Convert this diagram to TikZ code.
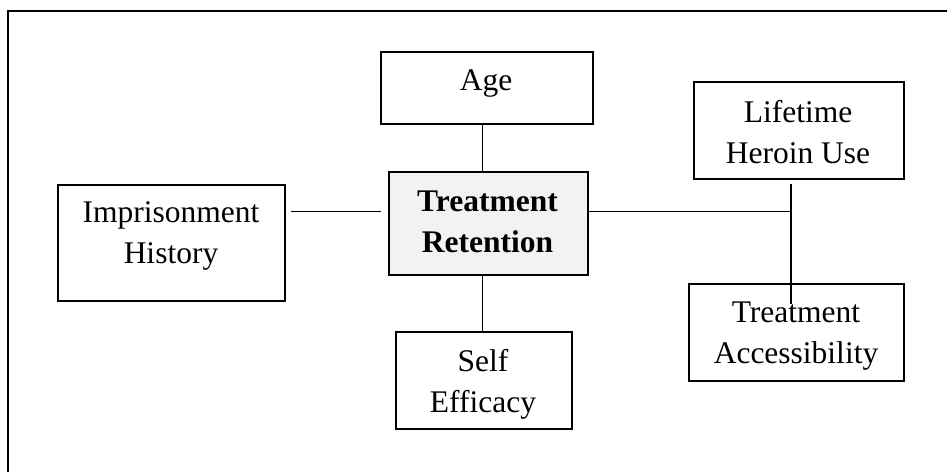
\documentclass[tikz,border=0pt]{standalone}
\usepackage{fontspec}
\setmainfont{Liberation Serif}
\begin{document}
\begin{tikzpicture}[x=1bp,y=-1bp,
  box/.style={draw=black, line width=1.8bp, fill=white, inner sep=0pt, anchor=north west},
  label/.style={anchor=base, inner sep=0pt, font=\fontsize{31.5bp}{41bp}\selectfont},
  conn/.style={draw=black, line width=1.8bp}]
\useasboundingbox (0,0) rectangle (947,472);
\fill[white] (0,0) rectangle (947,472);
% outer frame (extends beyond the page on right and bottom)
\draw[line width=2.2bp] (8,11) rectangle (980,500);
% boxes
\node[box, minimum width=212bp, minimum height=72bp] (age) at (380,51) {};
\node[box, minimum width=210bp, minimum height=97bp] (life) at (693,81) {};
\node[box, minimum width=227bp, minimum height=116bp] (imp) at (57,184) {};
\node[box, fill={rgb,255:red,242;green,242;blue,242}, minimum width=199bp, minimum height=103bp] (ret) at (388,171) {};
\node[box, minimum width=176bp, minimum height=97bp] (self) at (395,331) {};
\node[box, minimum width=215bp, minimum height=97bp] (acc) at (688,283) {};
% texts
\node[label] (agetxt) at (486,91) {\begin{tabular}[t]{@{}c@{}}Age\end{tabular}};
\node[label] (lifetxt) at (798,122.7) {\begin{tabular}[t]{@{}c@{}}Lifetime\\Heroin Use\end{tabular}};
\node[label] (imptxt) at (171,223) {\begin{tabular}[t]{@{}c@{}}Imprisonment\\History\end{tabular}};
\node[label] (rettxt) at (487.5,211.7) {\bfseries\begin{tabular}[t]{@{}c@{}}Treatment\\Retention\end{tabular}};
\node[label] (selftxt) at (483,371.7) {\begin{tabular}[t]{@{}c@{}}Self\\Efficacy\end{tabular}};
\node[label] (acctxt) at (796,322.7) {\begin{tabular}[t]{@{}c@{}}Treatment\\Accessibility\end{tabular}};
% connector coordinates
\coordinate (vx) at (482.5,0);
\coordinate (hl) at (291,211.5);
\coordinate (hr) at (381,211.5);
\coordinate (jn) at (791,211.5);
\coordinate (vt) at (791,184);
\coordinate (vb) at (791,304.5);
% connectors
\draw[conn] (age.south -| vx) -- (ret.north -| vx);
\draw[conn] (ret.south -| vx) -- (self.north -| vx);
\draw[conn] (hl) -- (hr);
\draw[conn] (ret.east |- jn) -- (jn);
\draw[conn] (vt) -- (vb);
\end{tikzpicture}
\end{document}
